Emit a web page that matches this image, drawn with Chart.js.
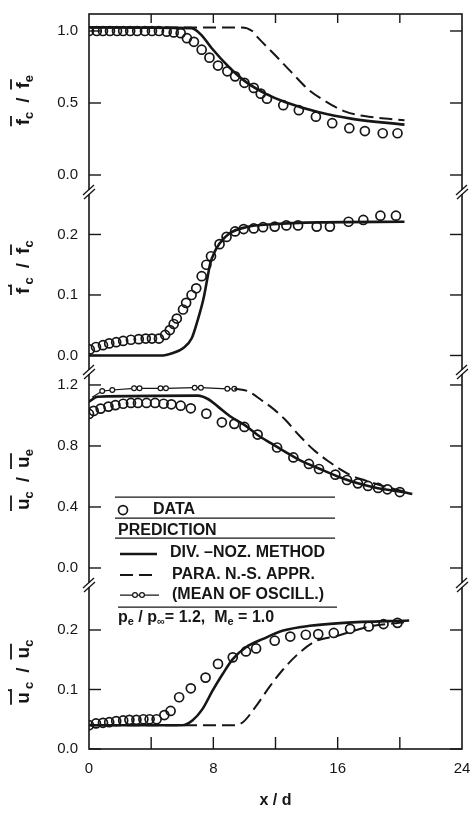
<!DOCTYPE html>
<html>
<head>
<meta charset="utf-8">
<script src="https://cdn.jsdelivr.net/npm/chart.js@4"></script>
<style>
  body { margin: 0; background: #fff; }
  canvas { display: block; }
</style>
</head>
<body>
<canvas id="chart" width="475" height="813"></canvas>
<script>
// x / d axis
const xTickLabels = [0, 8, 16, 24]
const xTickMarks = [4, 8, 12, 16, 20]

// panel 1 : fc / fe
const p1Ticks = [0, 0.5, 1.0]
const p1DataX = [0, 0.5, 0.9, 1.35, 1.8, 2.2, 2.65, 3.1, 3.6, 4.05, 4.5, 5.0, 5.45, 5.9, 6.3, 6.75, 7.25, 7.75, 8.3, 8.9, 9.4, 10.0, 10.6, 11.05, 11.45, 12.5, 13.5, 14.6, 15.65, 16.75, 17.75, 18.9, 19.85]
const p1DataY = [1.0, 1.0, 1.0, 1.0, 1.0, 1.0, 1.0, 1.0, 1.0, 1.0, 1.0, 0.995, 0.99, 0.985, 0.95, 0.925, 0.87, 0.815, 0.76, 0.72, 0.685, 0.64, 0.605, 0.565, 0.53, 0.485, 0.45, 0.405, 0.36, 0.325, 0.305, 0.29, 0.29]
const p1DivX = [0, 6.6, 7.25, 7.9, 9.0, 10.05, 11.35, 12.65, 14.8, 16.95, 20.3]
const p1DivY = [1.025, 1.02, 0.97, 0.88, 0.75, 0.65, 0.565, 0.505, 0.435, 0.39, 0.35]
const p1ParaX = [0, 9.85, 10.5, 10.9, 12.0, 13.1, 14.15, 15.25, 16.5, 18.0, 20.3]
const p1ParaY = [1.025, 1.025, 1.0, 0.95, 0.83, 0.705, 0.59, 0.51, 0.44, 0.405, 0.38]

// panel 2 : f'c / fc
const p2Ticks = [0, 0.1, 0.2]
const p2DataX = [0.05, 0.45, 0.9, 1.3, 1.75, 2.2, 2.7, 3.2, 3.65, 4.05, 4.5, 4.9, 5.2, 5.45, 5.65, 6.05, 6.25, 6.6, 6.9, 7.25, 7.55, 7.85, 8.4, 8.85, 9.4, 9.95, 10.6, 11.2, 11.95, 12.7, 13.45, 14.65, 15.5, 16.7, 17.65, 18.75, 19.75]
const p2DataY = [0.01, 0.014, 0.017, 0.02, 0.022, 0.024, 0.026, 0.027, 0.028, 0.028, 0.028, 0.034, 0.042, 0.052, 0.061, 0.076, 0.087, 0.1, 0.111, 0.131, 0.15, 0.164, 0.184, 0.196, 0.205, 0.209, 0.21, 0.212, 0.213, 0.215, 0.215, 0.213, 0.213, 0.221, 0.224, 0.231, 0.231]
const p2DivX = [0, 4.75, 5.4, 6.05, 6.6, 7.0, 7.35, 7.6, 7.8, 8.1, 8.4, 9.05, 10.1, 11.85, 14.85, 20.3]
const p2DivY = [0, 0, 0.004, 0.012, 0.028, 0.059, 0.092, 0.125, 0.152, 0.172, 0.185, 0.202, 0.212, 0.217, 0.22, 0.221]

// panel 3 : uc / ue
const p3Ticks = [0, 0.4, 0.8, 1.2]
const p3DataX = [0, 0.3, 0.75, 1.25, 1.7, 2.2, 2.7, 3.15, 3.7, 4.25, 4.8, 5.3, 5.9, 6.55, 7.55, 8.55, 9.35, 10.0, 10.85, 12.1, 13.15, 14.15, 14.8, 15.85, 16.6, 17.3, 17.95, 18.6, 19.2, 20.0]
const p3DataY = [1.01, 1.03, 1.045, 1.058, 1.068, 1.077, 1.082, 1.082, 1.082, 1.082, 1.077, 1.073, 1.064, 1.047, 1.012, 0.955, 0.945, 0.925, 0.875, 0.79, 0.725, 0.682, 0.649, 0.612, 0.577, 0.555, 0.538, 0.525, 0.516, 0.498]
const p3DivX = [0, 0.55, 7.0, 7.65, 8.3, 9.15, 10.0, 10.85, 11.7, 12.6, 13.65, 14.75, 16.0, 17.3, 18.6, 20.3, 20.8]
const p3DivY = [1.09, 1.123, 1.13, 1.108, 1.058, 0.99, 0.938, 0.872, 0.818, 0.763, 0.702, 0.654, 0.6, 0.555, 0.523, 0.496, 0.485]
const p3MeanX = [0.2, 0.85, 1.5, 2.9, 3.25, 4.6, 4.95, 6.8, 7.2, 8.9, 9.35]
const p3MeanY = [1.12, 1.16, 1.167, 1.178, 1.178, 1.178, 1.178, 1.182, 1.182, 1.175, 1.175]
const p3ParaX = [9.35, 10.2, 11.1, 11.9, 12.6, 13.5, 14.45, 15.4, 16.2, 16.9, 17.6, 19.0, 20.3]
const p3ParaY = [1.175, 1.16, 1.10, 1.04, 0.975, 0.872, 0.775, 0.70, 0.645, 0.605, 0.58, 0.535, 0.50]

// panel 4 : u'c / uc
const p4Ticks = [0, 0.1, 0.2]
const p4DataX = [0, 0.45, 0.9, 1.3, 1.75, 2.2, 2.6, 3.05, 3.5, 3.9, 4.35, 4.85, 5.25, 5.8, 6.55, 7.5, 8.3, 9.25, 10.1, 10.75, 11.95, 12.95, 13.95, 14.75, 15.75, 16.8, 18.0, 18.95, 19.85]
const p4DataY = [0.04, 0.043, 0.044, 0.045, 0.047, 0.048, 0.049, 0.049, 0.05, 0.05, 0.05, 0.057, 0.064, 0.087, 0.102, 0.12, 0.143, 0.154, 0.164, 0.169, 0.182, 0.189, 0.192, 0.193, 0.195, 0.202, 0.206, 0.21, 0.212]
const p4DivX = [0, 6.0, 6.65, 7.3, 7.95, 8.6, 9.25, 10.1, 11.2, 12.5, 14.2, 16.4, 20.6]
const p4DivY = [0.04, 0.04, 0.048, 0.067, 0.098, 0.126, 0.151, 0.171, 0.185, 0.199, 0.207, 0.212, 0.216]
const p4ParaX = [0, 9.35, 9.9, 10.75, 11.6, 12.5, 13.55, 14.65, 15.95, 17.9, 20.3]
const p4ParaY = [0.04, 0.04, 0.045, 0.072, 0.104, 0.134, 0.162, 0.182, 0.19, 0.205, 0.213]

const INK = '#161616'
const FONT = "'Liberation Sans', Arial, sans-serif"

const pts = (xs, ys) => xs.map((x, i) => ({x: x, y: ys[i]}))

const lineSet = (xs, ys, axis, dashed) => ({
    data: pts(xs, ys),
    yAxisID: axis,
    borderColor: INK,
    borderWidth: dashed ? 2 : 2.6,
    borderDash: dashed ? [13, 6] : [],
    pointRadius: 0,
    fill: false,
    cubicInterpolationMode: 'monotone'
})

const dotSet = (xs, ys, axis) => ({
    data: pts(xs, ys),
    yAxisID: axis,
    showLine: false,
    pointStyle: 'circle',
    pointRadius: 4.5,
    pointHoverRadius: 4.5,
    pointBorderWidth: 1.7,
    pointBorderColor: INK,
    pointBackgroundColor: 'rgba(0,0,0,0)'
})

const yScale = (min, max, ticks, h, w) => ({
    type: 'linear',
    position: 'left',
    stack: 'panels',
    stackWeight: h,
    weight: w,
    min: min,
    max: max,
    grid: {display: false, drawTicks: false},
    border: {display: false},
    afterBuildTicks: (s) => { s.ticks = ticks.map(v => ({value: v})) },
    afterFit: (s) => { s.width = 89; s.paddingTop = 0; s.paddingBottom = 0 },
    ticks: {autoSkip: false, padding: 11, color: INK, font: {family: FONT, size: 15},
        callback: (v) => Number(v).toFixed(1)}
})

// draw a label like  f̄c / f̄e  turned on its side
function mathLabel(ctx, parts, cx, cy) {
    ctx.save()
    ctx.translate(cx, cy)
    ctx.rotate(-Math.PI / 2)
    ctx.fillStyle = INK
    ctx.strokeStyle = INK
    ctx.textBaseline = 'alphabetic'
    let total = 0
    const items = parts.map((p) => {
        const font = (p.sub || p.sup) ? 'bold 13px ' + FONT : 'bold 19px ' + FONT
        ctx.font = font
        const w = ctx.measureText(p.t).width
        total += w + (p.gap || 0)
        return Object.assign({}, p, {font: font, w: w})
    })
    let x = -total / 2
    for (const it of items) {
        ctx.font = it.font
        const dy = it.sub ? 12 : (it.sup ? -4 : 8)
        ctx.fillText(it.t, x, dy)
        if (it.bar) {
            ctx.lineWidth = 1.8
            ctx.beginPath()
            ctx.moveTo(x - 1, -10)
            ctx.lineTo(x + it.w + 3, -10)
            ctx.stroke()
        }
        x += it.w + (it.gap || 0)
    }
    ctx.restore()
}

// text with small lowered parts, left aligned, centred on y
function richText(ctx, parts, x, y) {
    ctx.textBaseline = 'middle'
    for (const p of parts) {
        ctx.font = p.sub ? 'bold 11px ' + FONT : 'bold 16px ' + FONT
        ctx.fillText(p.t, x, p.sub ? y + 4 : y)
        x += ctx.measureText(p.t).width
    }
}

const framePlugin = {
    id: 'frame',
    afterDatasetsDraw(chart) {
        const ctx = chart.ctx
        const {left, right, top, bottom} = chart.chartArea
        const seg = (x1, y1, x2, y2) => {
            ctx.beginPath(); ctx.moveTo(x1, y1); ctx.lineTo(x2, y2); ctx.stroke()
        }
        ctx.save()
        ctx.strokeStyle = INK
        ctx.lineWidth = 1.6
        ctx.strokeRect(left, top, right - left, bottom - top)

        // ticks point inwards, on both sides
        ctx.lineWidth = 1.4
        for (const id of ['y1', 'y2', 'y3', 'y4']) {
            const s = chart.scales[id]
            for (const t of s.ticks) {
                const py = s.getPixelForValue(t.value)
                seg(left, py, left + 12, py)
                seg(right - 12, py, right, py)
            }
        }
        const xs = chart.scales.x
        for (const v of xTickMarks) {
            const px = xs.getPixelForValue(v)
            seg(px, bottom, px, bottom - 12)
            seg(px, top, px, top + 9)
        }

        // axis breaks between the panels
        for (const id of ['y2', 'y3', 'y4']) {
            const yb = chart.scales[id].top
            for (const xb of [left, right]) {
                ctx.fillStyle = '#fff'
                ctx.fillRect(xb - 2, yb - 2, 4, 4)
                ctx.lineWidth = 1.3
                seg(xb - 6, yb + 3, xb + 5, yb - 7)
                seg(xb - 5, yb + 7, xb + 6, yb - 3)
            }
        }
        ctx.restore()
    },
    afterDraw(chart) {
        const ctx = chart.ctx
        const {left} = chart.chartArea
        const sc = chart.scales
        ctx.save()

        // axis titles
        mathLabel(ctx, [{t: 'f', bar: true}, {t: 'c', sub: true, gap: 9}, {t: '/', gap: 9}, {t: 'f', bar: true}, {t: 'e', sub: true}],
            21, sc.y1.getPixelForValue(0.52))
        mathLabel(ctx, [{t: 'f', bar: true}, {t: '\u2032', sup: true}, {t: 'c', sub: true, gap: 9}, {t: '/', gap: 9}, {t: 'f', bar: true}, {t: 'c', sub: true}],
            21, sc.y2.getPixelForValue(0.146))
        mathLabel(ctx, [{t: 'u', bar: true}, {t: 'c', sub: true, gap: 9}, {t: '/', gap: 9}, {t: 'u', bar: true}, {t: 'e', sub: true}],
            21, sc.y3.getPixelForValue(0.58))
        mathLabel(ctx, [{t: 'u', bar: true}, {t: '\u2032', sup: true}, {t: 'c', sub: true, gap: 9}, {t: '/', gap: 9}, {t: 'u', bar: true}, {t: 'c', sub: true}],
            21, sc.y4.getPixelForValue(0.13))

        // legend box inside panel 3
        const lx = left + 26
        const by = sc.y3.getPixelForValue(0.465)
        ctx.strokeStyle = INK
        ctx.fillStyle = INK
        const seg = (x1, y1, x2, y2) => {
            ctx.beginPath(); ctx.moveTo(x1, y1); ctx.lineTo(x2, y2); ctx.stroke()
        }
        ctx.lineWidth = 1.3
        seg(lx, by, lx + 220, by)
        seg(lx, by + 21, lx + 220, by + 21)
        seg(lx, by + 41, lx + 220, by + 41)
        seg(lx + 3, by + 110, lx + 222, by + 110)

        ctx.lineWidth = 1.7
        ctx.beginPath(); ctx.arc(lx + 8, by + 13, 4.5, 0, Math.PI * 2); ctx.stroke()
        richText(ctx, [{t: 'DATA'}], lx + 38, by + 13)
        richText(ctx, [{t: 'PREDICTION'}], lx + 3, by + 34)

        ctx.lineWidth = 2.6
        seg(lx + 5, by + 57, lx + 42, by + 57)
        richText(ctx, [{t: 'DIV. \u2013NOZ. METHOD'}], lx + 55, by + 56)

        ctx.lineWidth = 2
        ctx.setLineDash([13, 6])
        seg(lx + 5, by + 78, lx + 42, by + 78)
        ctx.setLineDash([])
        richText(ctx, [{t: 'PARA. N.-S. APPR.'}], lx + 57, by + 78)

        ctx.lineWidth = 1.2
        seg(lx + 5, by + 98, lx + 44, by + 98)
        for (const cxm of [lx + 20, lx + 27]) {
            ctx.fillStyle = '#fff'
            ctx.beginPath(); ctx.arc(cxm, by + 98, 2.4, 0, Math.PI * 2); ctx.fill(); ctx.stroke()
        }
        ctx.fillStyle = INK
        richText(ctx, [{t: '(MEAN OF OSCILL.)'}], lx + 57, by + 98)

        richText(ctx, [{t: 'p'}, {t: 'e', sub: true}, {t: ' / p'}, {t: '\u221e', sub: true}, {t: '= 1.2,  M'}, {t: 'e', sub: true}, {t: ' = 1.0'}],
            lx + 3, by + 121)
        ctx.restore()
    }
}

new Chart(document.getElementById('chart'), {
    type: 'line',
    data: {
        datasets: [
            dotSet(p1DataX, p1DataY, 'y1'),
            lineSet(p1DivX, p1DivY, 'y1', false),
            lineSet(p1ParaX, p1ParaY, 'y1', true),

            dotSet(p2DataX, p2DataY, 'y2'),
            lineSet(p2DivX, p2DivY, 'y2', false),

            dotSet(p3DataX, p3DataY, 'y3'),
            lineSet(p3DivX, p3DivY, 'y3', false),
            lineSet(p3ParaX, p3ParaY, 'y3', true),
            {
                data: pts(p3MeanX, p3MeanY),
                yAxisID: 'y3',
                borderColor: INK,
                borderWidth: 1.2,
                pointRadius: p3MeanX.map((v, i) => i === 0 ? 0 : 2.4),
                pointBorderWidth: 1.2,
                pointBorderColor: INK,
                pointBackgroundColor: '#fff',
                fill: false,
                tension: 0
            },

            dotSet(p4DataX, p4DataY, 'y4'),
            lineSet(p4DivX, p4DivY, 'y4', false),
            lineSet(p4ParaX, p4ParaY, 'y4', true)
        ]
    },
    options: {
        responsive: false,
        animation: false,
        devicePixelRatio: 1,
        layout: {padding: {left: 0, right: 13, top: 14, bottom: 0}},
        plugins: {
            legend: {display: false},
            tooltip: {enabled: false}
        },
        scales: {
            x: {
                type: 'linear',
                position: 'bottom',
                min: 0,
                max: 24,
                grid: {display: false, drawTicks: false},
                border: {display: false},
                afterBuildTicks: (s) => { s.ticks = xTickLabels.map(v => ({value: v})) },
                afterFit: (s) => { s.height = 64; s.paddingLeft = 0; s.paddingRight = 0 },
                ticks: {autoSkip: false, maxRotation: 0, padding: 11, color: INK, font: {family: FONT, size: 15},
                    callback: (v) => String(v)},
                title: {display: true, text: 'x / d', color: INK,
                    font: {family: FONT, size: 16, weight: 'bold'}, padding: {top: 0, bottom: 3}}
            },
            y1: yScale(-0.118, 1.118, p1Ticks, 178, 4),
            y2: yScale(-0.0273, 0.2702, p2Ticks, 180, 3),
            y3: yScale(-0.1115, 1.285, p3Ticks, 213, 2),
            y4: yScale(0, 0.2756, p4Ticks, 164, 1)
        }
    },
    plugins: [framePlugin]
})
</script>
</body>
</html>
